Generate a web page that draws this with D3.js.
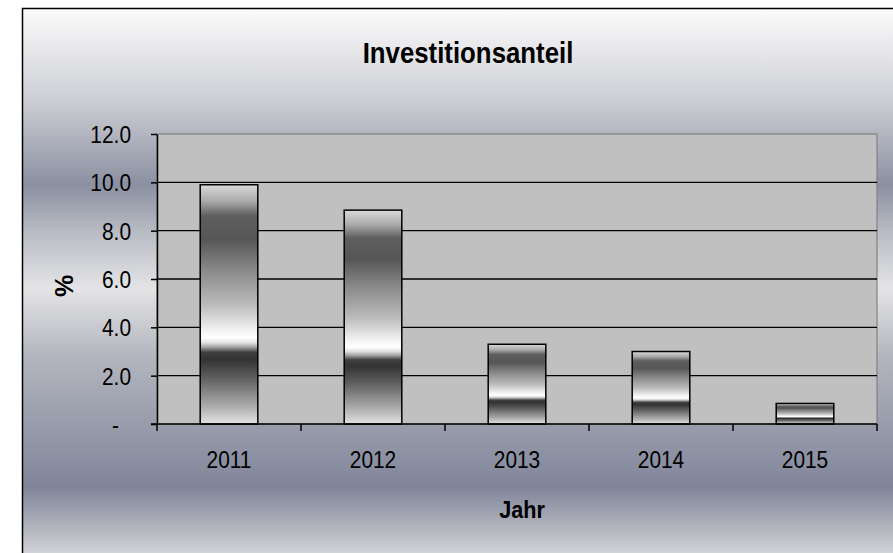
<!DOCTYPE html>
<html>
<head>
<meta charset="utf-8">
<script src="https://cdn.jsdelivr.net/npm/d3@7"></script>
<style>
  body { margin: 0; background: #fff; }
  text { font-family: "Liberation Sans", Arial, sans-serif; fill: #000; }
</style>
</head>
<body>
<script>
// ---- data ----
var years = ["2011", "2012", "2013", "2014", "2015"];
var shares = [9.9, 8.85, 3.3, 3.0, 0.85];
var yTicks = [0, 2, 4, 6, 8, 10, 12];
var yTickLabels = ["-", "2.0", "4.0", "6.0", "8.0", "10.0", "12.0"];
var chartTitle = "Investitionsanteil";
var xTitle = "Jahr";
var yTitle = "%";

// ---- layout ----
var W = 893, H = 553;
var plot = {left: 157, top: 134, right: 877, bottom: 424};
var squeeze = 0.87; // glyphs in the reference are narrow / tall

var svg = d3.select("body").append("svg")
  .attr("width", W)
  .attr("height", H);

var defs = svg.append("defs");

// chart background: horizontal chrome bands
var bg = defs.append("linearGradient")
  .attr("id", "bg").attr("x1", 0).attr("y1", 0).attr("x2", 0).attr("y2", 1);
[[0, "#fbfbfb"], [0.16, "#cfd0d6"], [0.315, "#8b90a1"], [0.4, "#b9bcc4"],
 [0.5, "#e4e4e6"], [0.62, "#b3b6be"], [0.855, "#80859a"], [0.93, "#b4b6be"], [1, "#e6e6e8"]]
  .forEach(function(s) { bg.append("stop").attr("offset", s[0]).attr("stop-color", s[1]); });

// bar fill: chrome gradient, scaled to each bar
var barGrad = defs.append("linearGradient")
  .attr("id", "barGrad").attr("x1", 0).attr("y1", 0).attr("x2", 0).attr("y2", 1);
[[0, "#dadada"], [0.07, "#a8a8a8"], [0.13, "#5e5e5e"], [0.23, "#565656"],
 [0.36, "#8a8a8a"], [0.5, "#bababa"], [0.6, "#eeeeee"], [0.64, "#ffffff"],
 [0.66, "#e2e2e2"], [0.68, "#9e9e9e"], [0.7, "#404040"], [0.73, "#333333"],
 [0.8, "#5a5a5a"], [0.92, "#a8a8a8"], [1, "#e2e2e2"]]
  .forEach(function(s) { barGrad.append("stop").attr("offset", s[0]).attr("stop-color", s[1]); });

// chart frame (runs past the right and bottom of the picture)
svg.append("rect")
  .attr("x", 22.5).attr("y", 8.5)
  .attr("width", 900).attr("height", 560)
  .attr("fill", "url(#bg)")
  .attr("stroke", "#000").attr("stroke-width", 1.5);

// scales
var x = d3.scaleBand()
  .domain(years)
  .range([plot.left, plot.right])
  .paddingInner(0.6)
  .paddingOuter(0.3);

var y = d3.scaleLinear()
  .domain([0, 12])
  .range([plot.bottom, plot.top]);

// plot area
svg.append("rect")
  .attr("x", plot.left).attr("y", plot.top)
  .attr("width", plot.right - plot.left).attr("height", plot.bottom - plot.top)
  .attr("fill", "#c0c0c0")
  .attr("stroke", "#808080").attr("stroke-width", 1.2);

// gridlines
svg.append("g")
  .selectAll("line")
  .data(yTicks.filter(function(d) { return d > 0 && d < 12; }))
  .enter().append("line")
    .attr("x1", plot.left).attr("x2", plot.right)
    .attr("y1", function(d) { return y(d); })
    .attr("y2", function(d) { return y(d); })
    .attr("stroke", "#000").attr("stroke-width", 1.3);

// bars
svg.append("g")
  .selectAll("rect")
  .data(shares)
  .enter().append("rect")
    .attr("x", function(d, i) { return x(years[i]); })
    .attr("y", function(d) { return y(d); })
    .attr("width", x.bandwidth())
    .attr("height", function(d) { return y(0) - y(d); })
    .attr("fill", "url(#barGrad)")
    .attr("stroke", "#000").attr("stroke-width", 1.5);

// y axis
var yAxis = svg.append("g")
  .attr("transform", "translate(" + plot.left + ",0)")
  .call(d3.axisLeft(y).tickValues(yTicks).tickSize(6).tickSizeOuter(0).tickFormat(""));
yAxis.selectAll("path, line").attr("stroke", "#000").attr("stroke-width", 1.5);

svg.append("g")
  .selectAll("text")
  .data(yTicks)
  .enter().append("text")
    .attr("transform", function(d, i) {
      var dx = yTickLabels[i] === "-" ? 119 : 131;
      return "translate(" + dx + "," + (y(d) + 9) + ") scale(" + squeeze + ",1)";
    })
    .attr("text-anchor", "end")
    .style("font-size", "24px")
    .text(function(d, i) { return yTickLabels[i]; });

// x axis: ticks sit on category boundaries
var boundaries = years.map(function(d) { return x(d) - x.step() * x.paddingOuter(); })
  .concat([plot.right]);
svg.append("line")
  .attr("x1", plot.left - 6).attr("x2", plot.right)
  .attr("y1", plot.bottom).attr("y2", plot.bottom)
  .attr("stroke", "#000").attr("stroke-width", 1.5);
svg.append("g")
  .selectAll("line")
  .data(boundaries)
  .enter().append("line")
    .attr("x1", function(d) { return d; }).attr("x2", function(d) { return d; })
    .attr("y1", plot.bottom).attr("y2", plot.bottom + 7)
    .attr("stroke", "#000").attr("stroke-width", 1.5);

svg.append("g")
  .selectAll("text")
  .data(years)
  .enter().append("text")
    .attr("transform", function(d) {
      return "translate(" + (x(d) + x.bandwidth() / 2) + ",468) scale(" + squeeze + ",1)";
    })
    .attr("text-anchor", "middle")
    .style("font-size", "24px")
    .text(function(d) { return d; });

// titles
svg.append("text")
  .attr("transform", "translate(468,63) scale(0.86,1)")
  .attr("text-anchor", "middle")
  .style("font-size", "30px").style("font-weight", "bold")
  .text(chartTitle);

svg.append("text")
  .attr("transform", "translate(522,518) scale(0.9,1)")
  .attr("text-anchor", "middle")
  .style("font-size", "24px").style("font-weight", "bold")
  .text(xTitle);

svg.append("text")
  .attr("transform", "translate(73,286) rotate(-90)")
  .attr("text-anchor", "middle")
  .style("font-size", "25px").style("font-weight", "bold")
  .text(yTitle);
</script>
</body>
</html>
